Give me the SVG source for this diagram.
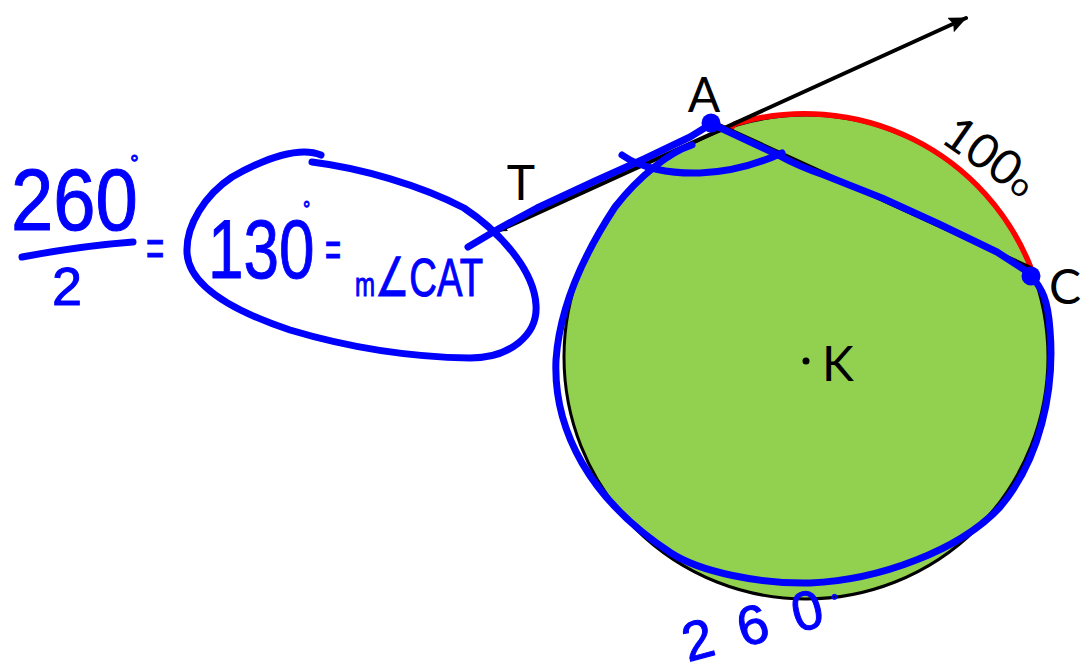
<svg xmlns="http://www.w3.org/2000/svg" width="1082" height="671" viewBox="0 0 1082 671">
<defs>
<style>
.lbl{font-family:Lato,'Liberation Sans',sans-serif;font-weight:400;font-size:48px;fill:#000}
.hand{font-family:'Liberation Sans','DejaVu Sans',sans-serif;fill:#0000FF;stroke:#0000FF;stroke-width:1}
.ink{fill:none;stroke:#0000FF;stroke-width:7;stroke-linecap:round;stroke-linejoin:round}
.geo{fill:none;stroke:#000;stroke-width:4;stroke-linecap:round}
</style>
<marker id="arrowEnd" viewBox="0 0 18 16" markerWidth="18" markerHeight="16" refX="17" refY="8" orient="auto" markerUnits="userSpaceOnUse"><path d="M0,0 L18,8 L0,16 L3,8 z" fill="#000"/></marker>
<marker id="arrowStart" viewBox="0 0 10 8" markerWidth="10" markerHeight="8" refX="9" refY="4" orient="auto-start-reverse" markerUnits="userSpaceOnUse"><path d="M0,0 L10,4 L0,8 z" fill="#000"/></marker>
</defs>
<rect width="1082" height="671" fill="#fff"/>

<g id="circle-K">
<circle cx="806" cy="357" r="242" fill="#92D050" stroke="#000" stroke-width="3"/>
<path d="M731,130 Q732,124 738,123 A243,243 0 0 1 1031,268" fill="none" stroke="#FF0000" stroke-width="5.5" stroke-linecap="round"/>
<circle cx="806" cy="361" r="3.5" fill="#000"/>
</g>

<g id="connectors">
<line class="geo" x1="498" y1="231" x2="966" y2="18" marker-start="url(#arrowStart)" marker-end="url(#arrowEnd)"/>
<line class="geo" x1="717" y1="124" x2="1031" y2="268"/>
</g>

<g id="labels">
<text class="lbl" x="704" y="112" text-anchor="middle">A</text>
<text class="lbl" x="521" y="200" text-anchor="middle">T</text>
<text class="lbl" x="1049" y="304">C</text>
<text class="lbl" x="822" y="381">K</text>
<text class="lbl" transform="translate(939,141) rotate(35)" font-size="52">100<tspan font-size="32">o</tspan></text>
</g>

<g id="annotations">
<path class="ink" d="M468,247 L500,228 L537,208 L595,181 L644,159 L690,137 L711,124"/>
<path class="ink" d="M712,124 L778,155 Q800,167 824,175 L882,198 L939,224 L997,252 L1031,274"/>
<path class="ink" d="M622,155 C640,168 670,174 700,173 C730,172 760,163 782,153"/>
<path class="ink" d="M692,145 C670,152 640,175 615,207 C590,245 560,300 556,360 C553,430 590,500 671,553 C700,572 760,584 810,583 C880,580 960,550 1000,507 C1040,460 1055,390 1050,330 C1048,300 1042,288 1031,276"/>
<circle cx="711" cy="123" r="9.5" fill="#0000FF"/>
<circle cx="1031" cy="276" r="9.5" fill="#0000FF"/>
<path class="ink" d="M321,155 C300,146 265,158 232,177 C205,195 186,225 187,252 C188,285 230,310 290,330 C340,345 400,357 470,358 C510,358 538,335 536,305 C534,270 500,232 464,208 C420,185 360,168 312,162"/>
<path class="ink" d="M22,257 Q80,246 133,242"/>
<text class="hand" transform="translate(11,230) scale(0.95,1.1)" font-size="80">260<tspan font-size="22" dx="-8" dy="-54">°</tspan></text>
<text class="hand" x="52" y="305" font-size="54">2</text>
<text class="hand" transform="translate(146,266) scale(0.6,1)" font-size="52">=</text>
<text class="hand" transform="translate(208,278) scale(0.76,1)" font-size="84">130<tspan font-size="24" dx="-15" dy="-61">°</tspan></text>
<text class="hand" transform="translate(325,266) scale(0.55,1)" font-size="50">=</text>
<text class="hand" x="355" y="296" font-size="54" textLength="128" lengthAdjust="spacingAndGlyphs"><tspan font-size="34">m</tspan>∠CAT</text>
<text class="hand" transform="translate(688,662) rotate(-15)" font-size="55" letter-spacing="26">260<tspan font-size="18" dx="-15" dy="-15">°</tspan></text>
</g>
</svg>
